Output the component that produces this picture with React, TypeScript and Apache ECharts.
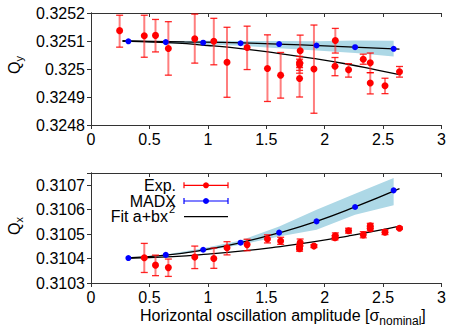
import { useEffect, useRef } from 'react';
import * as echarts from 'echarts';

const FONT = '"Liberation Sans", Arial, Helvetica, sans-serif';

// Axis ranges / ticks
const X_MIN = 0;
const X_MAX = 3;
const X_STEP = 0.5;
const QY_MIN = 0.3248;
const QY_MAX = 0.3252;
const QX_MIN = 0.3103;
const QX_MAX = 0.31075;
const Q_STEP = 0.0001;

// Experimental data, Qy: [amplitude, tune, lower, upper]
const expQy = [
  [0.245, 0.325137, 0.325078, 0.325192],
  [0.456, 0.325119, 0.325042, 0.325192],
  [0.552, 0.32512, 0.325061, 0.325177],
  [0.662, 0.325073, 0.324978, 0.325169],
  [0.888, 0.325108, 0.325021, 0.325196],
  [1.051, 0.325099, 0.325015, 0.325181],
  [1.164, 0.325024, 0.324899, 0.325149],
  [1.336, 0.325077, 0.324998, 0.325153],
  [1.51, 0.325002, 0.324884, 0.325122],
  [1.623, 0.324978, 0.324896, 0.325059],
  [1.79, 0.325065, 0.325021, 0.325121],
  [1.785, 0.325023, 0.324995, 0.325045],
  [1.785, 0.325015, 0.324985, 0.325035],
  [1.785, 0.324966, 0.3249, 0.325005],
  [1.908, 0.325, 0.324842, 0.325157],
  [2.091, 0.325102, 0.325057, 0.325145],
  [2.088, 0.32501, 0.324976, 0.325041],
  [2.204, 0.324997, 0.324971, 0.325019],
  [2.33, 0.325035, 0.325017, 0.325053],
  [2.39, 0.325022, 0.324987, 0.325057],
  [2.39, 0.32495, 0.324911, 0.324987],
  [2.516, 0.32494, 0.324912, 0.324967],
  [2.64, 0.32499, 0.324971, 0.325009],
];

// Experimental data, Qx: [amplitude, tune, lower, upper]
const expQx = [
  [0.456, 0.310403, 0.310343, 0.310462],
  [0.552, 0.310373, 0.31033, 0.310414],
  [0.662, 0.310363, 0.310327, 0.310398],
  [0.888, 0.310406, 0.310359, 0.310451],
  [1.051, 0.3104, 0.31036, 0.310443],
  [1.164, 0.310444, 0.310415, 0.310469],
  [1.336, 0.310457, 0.310432, 0.310479],
  [1.51, 0.31048, 0.310464, 0.310497],
  [1.623, 0.310472, 0.310458, 0.310487],
  [1.79, 0.310466, 0.310452, 0.31048],
  [1.785, 0.310448, 0.310438, 0.310458],
  [1.785, 0.31044, 0.31043, 0.31045],
  [1.908, 0.310451, 0.310445, 0.310457],
  [2.091, 0.310493, 0.310482, 0.310505],
  [2.088, 0.310485, 0.310476, 0.310494],
  [2.204, 0.310514, 0.310504, 0.310524],
  [2.33, 0.310497, 0.310485, 0.31051],
  [2.39, 0.310534, 0.310524, 0.310544],
  [2.39, 0.310522, 0.310513, 0.310531],
  [2.516, 0.310508, 0.310498, 0.310518],
  [2.64, 0.310524, 0.31052, 0.310529],
];

// MADX simulation
const madxX = [0.32, 0.64, 0.96, 1.28, 1.61, 1.93, 2.26, 2.59];
const madxQy = [0.325099, 0.325096, 0.325094, 0.325092, 0.325089, 0.325084, 0.325078, 0.325072];
const madxQyLo = [0.325098, 0.325092, 0.325088, 0.325083, 0.325074, 0.325066, 0.325057, 0.325045];
const madxQyHi = [0.3251, 0.3251, 0.325101, 0.3251, 0.3251, 0.325099, 0.325102, 0.325101];
const madxQx = [0.310402, 0.310415, 0.310436, 0.310465, 0.310506, 0.310552, 0.310611, 0.310679];
const madxQxLo = [0.310401, 0.310413, 0.31043, 0.310456, 0.31049, 0.310518, 0.310579, 0.310618];
const madxQxHi = [0.310403, 0.310417, 0.310442, 0.310474, 0.310531, 0.3106, 0.310665, 0.31073];

// Fit curves a+bx^2
const fitQyExp = [
  [0.27, 0.3251], [0.7, 0.325093], [1.0, 0.325084], [1.3, 0.325072], [1.6, 0.325056],
  [1.9, 0.325038], [2.2, 0.325017], [2.45, 0.324996], [2.65, 0.324979],
];
const fitQyMadx = [
  [0.27, 0.3251], [0.8, 0.325097], [1.3, 0.325093], [1.8, 0.325086], [2.2, 0.325079], [2.64, 0.325071],
];
const fitQxExp = [
  [0.3, 0.310401], [0.7, 0.310408], [1.0, 0.310418], [1.3, 0.310431], [1.6, 0.310448],
  [1.9, 0.310468], [2.2, 0.310492], [2.45, 0.310514], [2.65, 0.310534],
];
const fitQxMadx = [
  [0.3, 0.310403], [0.64, 0.310414], [0.96, 0.310435], [1.28, 0.310465], [1.61, 0.310505],
  [1.93, 0.310552], [2.26, 0.310611], [2.64, 0.310686],
];

const RED = '#ff0000';
const BLUE = '#0000ff';
const BAND = '#add8e6';
const FRAME = '#333333';

function fmtTune(v: number) {
  const k = v / Q_STEP;
  if (Math.abs(k - Math.round(k)) > 1e-4) return '';
  return String(parseFloat(v.toFixed(5)));
}

function errorBarRender(params: any, api: any) {
  const x = api.value(0);
  const p1 = api.coord([x, api.value(2)]);
  const p2 = api.coord([x, api.value(3)]);
  const cw = 3.5;
  return {
    type: 'group',
    children: [
      { type: 'line', shape: { x1: p1[0], y1: p1[1], x2: p2[0], y2: p2[1] }, style: { stroke: 'rgba(255,40,40,0.6)', lineWidth: 2 } },
      { type: 'line', shape: { x1: p1[0] - cw, y1: p1[1], x2: p1[0] + cw, y2: p1[1] }, style: { stroke: 'rgba(255,0,0,0.85)', lineWidth: 1.3 } },
      { type: 'line', shape: { x1: p2[0] - cw, y1: p2[1], x2: p2[0] + cw, y2: p2[1] }, style: { stroke: 'rgba(255,0,0,0.85)', lineWidth: 1.3 } },
    ],
  };
}

function bandRender(lo: number[], hi: number[]) {
  return (params: any, api: any) => {
    if (params.dataIndex !== 0) return null;
    const pts: number[][] = [];
    for (let i = 0; i < madxX.length; i++) pts.push(api.coord([madxX[i], hi[i]]));
    for (let i = madxX.length - 1; i >= 0; i--) pts.push(api.coord([madxX[i], lo[i]]));
    return { type: 'polygon', shape: { points: pts }, style: { fill: BAND } };
  };
}

function xAxes(grid: number) {
  const base = {
    gridIndex: grid, type: 'value', min: X_MIN, max: X_MAX, interval: X_STEP,
    splitLine: { show: false },
    axisLine: { show: true, lineStyle: { color: FRAME, width: 1 } },
  };
  return [
    {
      ...base, position: 'bottom',
      axisTick: { show: true, inside: false, length: 4, lineStyle: { color: FRAME } },
      axisLabel: { show: true, fontSize: 16, fontFamily: FONT, color: '#000', margin: 6, formatter: (v: number) => String(v) },
    },
    {
      ...base, position: 'top',
      axisTick: { show: true, inside: true, length: 4, lineStyle: { color: FRAME } },
      axisLabel: { show: false },
    },
  ];
}

function yAxes(grid: number, min: number, max: number) {
  const base = {
    gridIndex: grid, type: 'value', min, max, interval: Q_STEP,
    splitLine: { show: false },
    axisLine: { show: true, lineStyle: { color: FRAME, width: 1 } },
  };
  return [
    {
      ...base, position: 'left',
      axisTick: { show: true, inside: false, length: 4, lineStyle: { color: FRAME } },
      axisLabel: { show: true, fontSize: 16, fontFamily: FONT, color: '#000', margin: 6, formatter: fmtTune, showMaxLabel: true },
    },
    {
      ...base, position: 'right',
      axisTick: { show: true, inside: true, length: 4, lineStyle: { color: FRAME } },
      axisLabel: { show: false },
    },
  ];
}

function panelSeries(xi: number, yi: number, exp: number[][], madx: number[], lo: number[], hi: number[], fitExp: number[][], fitMadx: number[][]) {
  return [
    {
      type: 'custom', xAxisIndex: xi, yAxisIndex: yi, z: 1,
      data: madxX.map((x, i) => [x, lo[i], hi[i]]),
      encode: { x: 0, y: [1, 2] },
      renderItem: bandRender(lo, hi),
    },
    {
      type: 'line', xAxisIndex: xi, yAxisIndex: yi, z: 2, data: fitExp, smooth: true, showSymbol: false,
      lineStyle: { color: '#000', width: 1.3 },
    },
    {
      type: 'line', xAxisIndex: xi, yAxisIndex: yi, z: 2, data: fitMadx, smooth: true, showSymbol: false,
      lineStyle: { color: '#000', width: 1.3 },
    },
    {
      type: 'custom', xAxisIndex: xi, yAxisIndex: yi, z: 3,
      data: exp, encode: { x: 0, y: [2, 3] },
      renderItem: errorBarRender,
    },
    {
      type: 'scatter', xAxisIndex: xi, yAxisIndex: yi, z: 4,
      data: exp.map((d) => [d[0], d[1]]), symbolSize: 7, itemStyle: { color: RED, opacity: 1 },
    },
    {
      type: 'scatter', xAxisIndex: xi, yAxisIndex: yi, z: 5,
      data: madxX.map((x, i) => [x, madx[i]]), symbolSize: 6, itemStyle: { color: BLUE, opacity: 1 },
    },
  ];
}

function legendRow(y: number, label: string, color: string, bars: boolean, sup?: string) {
  const x1 = 184, x2 = 228, xm = 206;
  const items: any[] = [];
  if (sup) {
    items.push({ type: 'text', x: 168, y, style: { text: label, font: `16px ${FONT}`, fill: '#000', align: 'right', verticalAlign: 'middle' } });
    items.push({ type: 'text', x: 169, y: y - 8, style: { text: sup, font: `11px ${FONT}`, fill: '#000', align: 'left', verticalAlign: 'middle' } });
  } else {
    items.push({ type: 'text', x: 176, y, style: { text: label, font: `16px ${FONT}`, fill: '#000', align: 'right', verticalAlign: 'middle' } });
  }
  items.push({ type: 'line', shape: { x1, y1: y, x2, y2: y }, style: { stroke: color, lineWidth: 1.2 } });
  if (bars) {
    items.push({ type: 'line', shape: { x1, y1: y - 3, x2: x1, y2: y + 3 }, style: { stroke: color, lineWidth: 1.2 } });
    items.push({ type: 'line', shape: { x1: x2, y1: y - 3, x2, y2: y + 3 }, style: { stroke: color, lineWidth: 1.2 } });
    items.push({ type: 'circle', shape: { cx: xm, cy: y, r: 3 }, style: { fill: color } });
  }
  return items;
}

export default function App() {
  const ref = useRef<HTMLDivElement>(null);
  useEffect(() => {
    if (!ref.current) return;
    const chart = echarts.init(ref.current, null, { renderer: 'svg' });

    const ctx = document.createElement('canvas').getContext('2d')!;
    const mainTitle = 'Horizontal oscillation amplitude [σ';
    ctx.font = `16px ${FONT}`;
    const w1 = ctx.measureText(mainTitle).width;
    ctx.font = `12px ${FONT}`;
    const w2 = ctx.measureText('nominal').width;
    const tx = 140;
    const ty = 315;

    const graphics: any[] = [
      // Q_y
      {
        type: 'group', x: 14.5, y: 74, rotation: Math.PI / 2,
        children: [
          { type: 'text', x: 0, y: 0, style: { text: 'Q', font: `16px ${FONT}`, fill: '#000', align: 'left', verticalAlign: 'middle' } },
          { type: 'text', x: 12.6, y: 4, style: { text: 'y', font: `11px ${FONT}`, fill: '#000', align: 'left', verticalAlign: 'middle' } },
        ],
      },
      // Q_x
      {
        type: 'group', x: 14.5, y: 235, rotation: Math.PI / 2,
        children: [
          { type: 'text', x: 0, y: 0, style: { text: 'Q', font: `16px ${FONT}`, fill: '#000', align: 'left', verticalAlign: 'middle' } },
          { type: 'text', x: 12.6, y: 4, style: { text: 'x', font: `11px ${FONT}`, fill: '#000', align: 'left', verticalAlign: 'middle' } },
        ],
      },
      // x-axis title
      { type: 'text', x: tx, y: ty, style: { text: mainTitle, font: `16px ${FONT}`, fill: '#000', align: 'left', verticalAlign: 'middle' } },
      { type: 'text', x: tx + w1, y: ty + 6, style: { text: 'nominal', font: `12px ${FONT}`, fill: '#000', align: 'left', verticalAlign: 'middle' } },
      { type: 'text', x: tx + w1 + w2, y: ty, style: { text: ']', font: `16px ${FONT}`, fill: '#000', align: 'left', verticalAlign: 'middle' } },
      ...legendRow(185.3, 'Exp.', RED, true),
      ...legendRow(201, 'MADX', BLUE, true),
      ...legendRow(216.7, 'Fit a+bx', '#000', false, '2'),
    ];

    chart.setOption({
      animation: false,
      backgroundColor: '#fff',
      grid: [
        { left: 91, top: 13, width: 355, height: 112 },
        { left: 91, top: 173, width: 355, height: 110 },
      ],
      xAxis: [...xAxes(0), ...xAxes(1)],
      yAxis: [...yAxes(0, QY_MIN, QY_MAX), ...yAxes(1, QX_MIN, QX_MAX)],
      series: [
        ...panelSeries(0, 0, expQy, madxQy, madxQyLo, madxQyHi, fitQyExp, fitQyMadx),
        ...panelSeries(2, 2, expQx, madxQx, madxQxLo, madxQxHi, fitQxExp, fitQxMadx),
      ],
      graphic: graphics,
    });
    return () => chart.dispose();
  }, []);
  return <div ref={ref} style={{ position: 'fixed', left: 0, top: 0, width: 449, height: 329, background: '#fff' }} />;
}
